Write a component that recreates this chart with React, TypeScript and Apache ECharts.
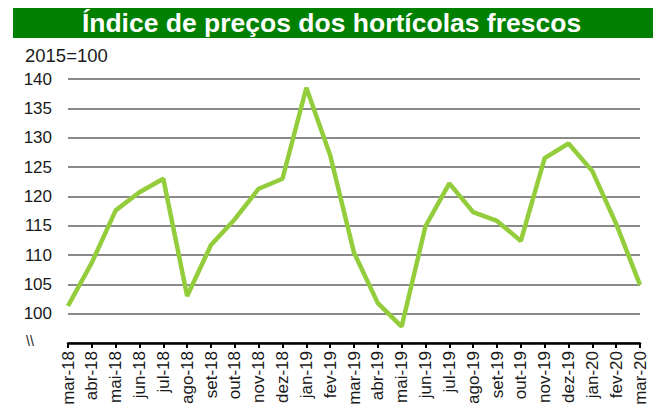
import React, { useEffect, useRef } from "react";
import * as echarts from "echarts";

const categories = [
  "mar-18", "abr-18", "mai-18", "jun-18", "jul-18", "ago-18", "set-18", "out-18", "nov-18", "dez-18",
  "jan-19", "fev-19", "mar-19", "abr-19", "mai-19", "jun-19", "jul-19", "ago-19", "set-19", "out-19",
  "nov-19", "dez-19", "jan-20", "fev-20", "mar-20",
];
const indexValues = [
  101.3, 108.7, 117.6, 120.7, 123.0, 103.0, 111.7, 116.1, 121.3, 123.0,
  138.5, 127.0, 110.4, 101.8, 97.8, 114.9, 122.2, 117.3, 115.8, 112.4,
  126.5, 129.0, 124.3, 115.3, 104.9,
];
const titleText = "Índice de preços dos hortícolas frescos";
const baseText = "2015=100";

export default function App() {
  const ref = useRef<HTMLDivElement>(null);
  useEffect(() => {
    document.body.style.margin = "0";
    const chart = echarts.init(ref.current!, null, { renderer: "svg" });
    const font = "'Liberation Sans', Arial, sans-serif";
    chart.setOption({
      animation: false,
      backgroundColor: "#ffffff",
      textStyle: { fontFamily: font },
      grid: { left: 68, right: 19, top: 79, bottom: 66, containLabel: false },
      graphic: [
        { type: "rect", shape: { x: 13, y: 8, width: 640, height: 30 }, style: { fill: "#008000" } },
        {
          type: "text", x: 331.5, y: 23,
          style: { text: titleText, fill: "#ffffff", font: `bold 26.5px ${font}`, textAlign: "center", textVerticalAlign: "middle" },
        },
        { type: "text", x: 25, y: 55.5, style: { text: baseText, fill: "#1a1a1a", font: `18.5px ${font}`, textVerticalAlign: "middle" } },
        { type: "text", x: 26, y: 341, style: { text: "\\\\", fill: "#1a1a1a", font: `14px ${font}`, textVerticalAlign: "middle" } },
      ],
      xAxis: {
        type: "category",
        data: categories,
        boundaryGap: false,
        axisLine: { show: true, lineStyle: { color: "#000000", width: 2.5 } },
        axisTick: { show: true, length: 5, lineStyle: { color: "#000000", width: 2 } },
        axisLabel: { rotate: 90, fontSize: 17, color: "#1a1a1a", margin: 8, interval: 0, fontFamily: font },
        splitLine: { show: false },
      },
      yAxis: {
        type: "value",
        min: 95,
        max: 140,
        interval: 5,
        axisLine: { show: false },
        axisTick: { show: false },
        axisLabel: {
          fontSize: 17, color: "#1a1a1a", margin: 16, fontFamily: font,
          formatter: (v: number) => (v === 95 ? "" : String(v)),
        },
        splitLine: { show: true, lineStyle: { color: "#8a8a8a", width: 2 } },
      },
      series: [
        {
          type: "line",
          data: indexValues,
          symbol: "none",
          lineStyle: { color: "#93CD3C", width: 4.5 },
          z: 5,
        },
      ],
    });
    return () => chart.dispose();
  }, []);
  return <div ref={ref} style={{ width: 659, height: 409 }} />;
}
